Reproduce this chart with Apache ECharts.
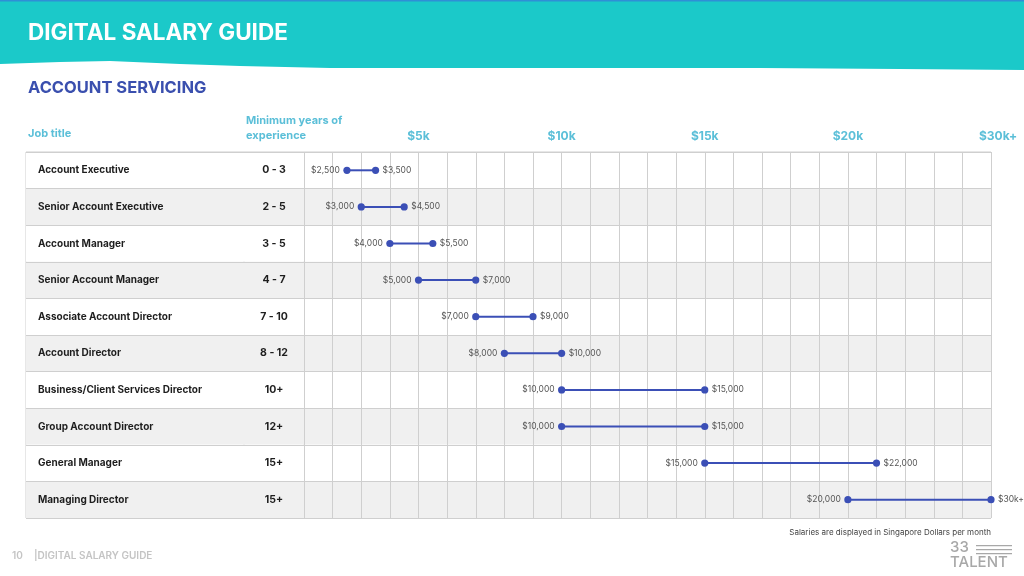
<!DOCTYPE html>
<html>
<head>
<meta charset="utf-8">
<script src="https://cdn.jsdelivr.net/npm/echarts@6/dist/echarts.min.js"></script>
<style>html,body{margin:0;padding:0;background:#fff;}#c{width:1024px;height:576px;}</style>
</head>
<body>
<div id="c"></div>
<script>
const jobs = ['Account Executive','Senior Account Executive','Account Manager','Senior Account Manager','Associate Account Director','Account Director','Business/Client Services Director','Group Account Director','General Manager','Managing Director'];
const years = ['0 - 3','2 - 5','3 - 5','4 - 7','7 - 10','8 - 12','10+','12+','15+','15+'];
const minSalary = [2500,3000,4000,5000,7000,8000,10000,10000,15000,20000];
const maxSalary = [3500,4500,5500,7000,9000,10000,15000,15000,22000,30000];
const tickValues = [5000,10000,15000,20000,25000];
const tickLabels = ['$5k','$10k','$15k','$20k','$30k+'];

// axis scale: linear to $20k, then each grid column = $2,000
function pos(v){ return v <= 20000 ? v : 20000 + (v - 20000) / 2; }
function fmt(v){ return v >= 30000 ? '$30k+' : '$' + v.toLocaleString('en-US'); }

const FONT = 'Inter, "Noto Sans", sans-serif';
const GRID_C = '#cfcfcf';
const TOP = 152, BOTTOM = 58;

const chart = echarts.init(document.getElementById('c'), null, {renderer:'canvas'});

const catAxisBase = {
  type:'category', inverse:true, data:jobs,
  axisLine:{show:false}, axisTick:{show:false},
  splitLine:{show:true, lineStyle:{color:GRID_C, width:1}},
  splitArea:{show:true, areaStyle:{color:['#ffffff','#f0f0f0']}}
};

const option = {
  backgroundColor:'#ffffff',
  animation:false,
  grid:[
    {left:26, width:218, top:TOP, bottom:BOTTOM, show:true, borderColor:GRID_C, borderWidth:1, backgroundColor:'transparent'},
    {left:244, width:60, top:TOP, bottom:BOTTOM, show:true, borderColor:GRID_C, borderWidth:1, backgroundColor:'transparent'},
    {left:304, right:33, top:TOP, bottom:BOTTOM, show:true, borderColor:GRID_C, borderWidth:1, backgroundColor:'transparent'}
  ],
  xAxis:[
    {gridIndex:0, type:'value', min:0, max:1, show:false},
    {gridIndex:1, type:'value', min:0, max:1, show:false},
    {gridIndex:2, type:'value', position:'top', min:1000, max:25000, interval:1000,
     axisLine:{show:false}, axisTick:{show:false},
     splitLine:{show:true, lineStyle:{color:GRID_C, width:1}},
     axisLabel:{show:true, margin:10, color:'#5bbfd8', fontFamily:FONT, fontWeight:'bold', fontSize:12,
       showMaxLabel:true, showMinLabel:false,
       formatter:function(v){ const i = tickValues.indexOf(v); if (i < 0) return ''; return i === tickValues.length - 1 ? '{last|' + tickLabels[i] + '}' : tickLabels[i]; },
       rich:{last:{padding:[0,0,0,14], color:'#5bbfd8', fontFamily:FONT, fontWeight:'bold', fontSize:12}}}
    }
  ],
  yAxis:[
    Object.assign({}, catAxisBase, {gridIndex:0,
      axisLabel:{inside:true, margin:12, align:'left', color:'#1e1e1e', fontFamily:FONT, fontWeight:'bold', fontSize:10}}),
    Object.assign({}, catAxisBase, {gridIndex:1,
      axisLabel:{inside:true, margin:30, align:'center', color:'#1e1e1e', fontFamily:FONT, fontWeight:'bold', fontSize:10.5,
        formatter:function(v, i){ return years[i]; }}}),
    Object.assign({}, catAxisBase, {gridIndex:2, axisLabel:{show:false}})
  ],
  series:[
    {type:'custom', xAxisIndex:2, yAxisIndex:2,
     data: jobs.map(function(j, i){ return [pos(minSalary[i]), pos(maxSalary[i]), i]; }),
     encode:{x:[0,1], y:2},
     renderItem:function(params, api){
       const i = api.value(2);
       const p1 = api.coord([api.value(0), i]);
       const p2 = api.coord([api.value(1), i]);
       const col = '#3b4fb6';
       return {type:'group', children:[
         {type:'line', shape:{x1:p1[0], y1:p1[1], x2:p2[0], y2:p2[1]}, style:{stroke:col, lineWidth:2}},
         {type:'circle', shape:{cx:p1[0], cy:p1[1], r:3.6}, style:{fill:col}},
         {type:'circle', shape:{cx:p2[0], cy:p2[1], r:3.6}, style:{fill:col}},
         {type:'text', style:{x:p1[0]-7, y:p1[1], text:fmt(minSalary[i]), align:'right', verticalAlign:'middle', fill:'#555', font:'8.5px ' + FONT}},
         {type:'text', style:{x:p2[0]+7, y:p2[1], text:fmt(maxSalary[i]), align:'left', verticalAlign:'middle', fill:'#555', font:'8.5px ' + FONT}}
       ]};
     }
    }
  ],
  graphic:[
    {type:'polygon', z:-1, shape:{points:[[0,0],[1024,0],[1024,70],[900,69],[760,68],[600,68],[480,68],[330,68],[240,66],[180,64],[110,61],[60,62],[0,64]]}, style:{fill:'#1bc9c9'}},
    {type:'rect', shape:{x:0, y:0, width:1024, height:1.5}, style:{fill:'#2f8fd6'}},
    {type:'text', left:28, top:22, style:{text:'DIGITAL SALARY GUIDE', fill:'#ffffff', font:'bold 22.5px ' + FONT}},
    {type:'text', left:28, top:80, style:{text:'ACCOUNT SERVICING', fill:'#3a4fae', font:'bold 16.5px ' + FONT}},
    {type:'text', left:28, top:128, style:{text:'Job title', fill:'#5bbfd8', font:'bold 11px ' + FONT}},
    {type:'text', left:246, top:113, style:{text:'Minimum years of\nexperience', fill:'#5bbfd8', font:'bold 11px ' + FONT, lineHeight:15}},
    {type:'text', right:33, top:529, style:{text:'Salaries are displayed in Singapore Dollars per month', fill:'#444', font:'8px ' + FONT}},
    {type:'text', left:12, top:551, style:{text:'10', fill:'#c4c4c4', font:'600 10px ' + FONT}},
    {type:'text', left:34, top:551, style:{text:'|DIGITAL SALARY GUIDE', fill:'#c4c4c4', font:'600 10px ' + FONT}},
    {type:'text', left:950, top:540, style:{text:'33', fill:'#a8a8a8', font:'500 15px ' + FONT}},
    {type:'rect', shape:{x:976, y:545, width:36, height:1.2}, style:{fill:'#a8a8a8'}},
    {type:'rect', shape:{x:976, y:549, width:36, height:1.2}, style:{fill:'#a8a8a8'}},
    {type:'rect', shape:{x:976, y:553, width:36, height:1.2}, style:{fill:'#a8a8a8'}},
    {type:'text', left:950, top:555, style:{text:'TALENT', fill:'#a8a8a8', font:'500 15px ' + FONT}}
  ]
};
chart.setOption(option);
</script>
</body>
</html>
